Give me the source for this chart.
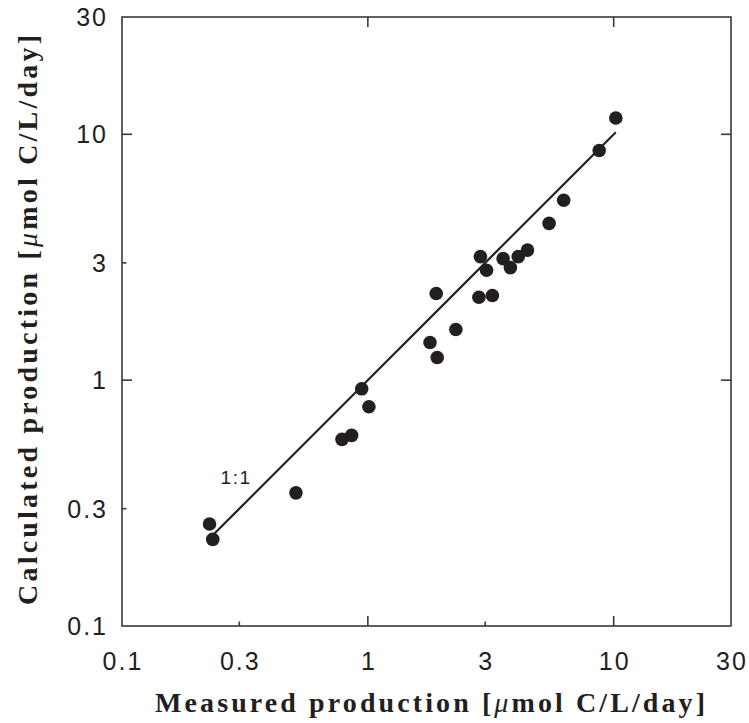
<!DOCTYPE html>
<html lang="en">
  <head>
    <meta charset="UTF-8" />
    <title>Measured vs calculated production</title>
    <style>
      body {
        margin: 0;
        background: #fff;
      }
      svg {
        display: block;
      }
      .tick-label {
        font-family: "Liberation Sans", Arial, sans-serif;
        font-size: 25px;
        letter-spacing: 2px;
        fill: #231f20;
      }
      .axis-title {
        font-family: "Liberation Serif", "Times New Roman", serif;
        font-weight: bold;
        font-size: 28px;
        fill: #231f20;
      }
    </style>
  </head>
  <body>
    <div id="chart"></div>

    <script src="https://d3js.org/d3.v7.min.js"></script>
    <script>
      // measured (x) and calculated (y) production, umol C/L/day
      const measured = [
        0.227, 0.234, 0.51, 0.785, 0.859, 0.944, 1.01, 1.79, 1.915, 1.897,
        2.28, 2.83, 2.87, 3.04, 3.21, 3.55, 3.8, 4.09, 4.46, 5.46, 6.26, 8.73,
        10.2,
      ];
      const calculated = [
        0.26, 0.225, 0.348, 0.574, 0.596, 0.922, 0.779, 1.423, 1.237, 2.25,
        1.607, 2.175, 3.18, 2.8, 2.21, 3.12, 2.87, 3.18, 3.38, 4.34, 5.39,
        8.59, 11.65,
      ];
      const oneToOne = [0.235, 10.2];
      const tickValues = [0.1, 0.3, 1, 3, 10, 30];
      const majorTicks = [1, 10];
      const minorTicks = [0.3, 3];

      const width = 749,
        height = 723;
      const plot = { left: 122, right: 731, top: 17, bottom: 626 };

      const svg = d3
        .select("#chart")
        .append("svg")
        .attr("width", width)
        .attr("height", height);

      const x = d3
        .scaleLog()
        .domain([0.1, 30])
        .range([plot.left, plot.right]);
      const y = d3
        .scaleLog()
        .domain([0.1, 30])
        .range([plot.bottom, plot.top]);

      const ink = "#231f20";
      const frame = "#3b3839";

      // frame
      svg
        .append("rect")
        .attr("x", plot.left)
        .attr("y", plot.top)
        .attr("width", plot.right - plot.left)
        .attr("height", plot.bottom - plot.top)
        .attr("fill", "none")
        .attr("stroke", frame)
        .attr("stroke-width", 1.6);

      // inward ticks: long at decades, short at 0.3 / 3 (left + bottom only)
      const ticks = svg.append("g").attr("stroke", frame).attr("stroke-width", 1.6);
      const tickLen = (v) => (majorTicks.includes(v) ? 10 : 4.5);

      [...majorTicks, ...minorTicks].forEach((v) => {
        ticks
          .append("line")
          .attr("x1", x(v))
          .attr("x2", x(v))
          .attr("y1", plot.bottom)
          .attr("y2", plot.bottom - tickLen(v));
        ticks
          .append("line")
          .attr("y1", y(v))
          .attr("y2", y(v))
          .attr("x1", plot.left)
          .attr("x2", plot.left + tickLen(v));
      });
      majorTicks.forEach((v) => {
        ticks
          .append("line")
          .attr("x1", x(v))
          .attr("x2", x(v))
          .attr("y1", plot.top)
          .attr("y2", plot.top + 10);
        ticks
          .append("line")
          .attr("y1", y(v))
          .attr("y2", y(v))
          .attr("x1", plot.right)
          .attr("x2", plot.right - 10);
      });

      // tick labels
      svg
        .append("g")
        .selectAll("text")
        .data(tickValues)
        .join("text")
        .attr("class", "tick-label")
        .attr("x", (d) => x(d) + 1)
        .attr("y", plot.bottom + 44)
        .attr("text-anchor", "middle")
        .text((d) => d);

      svg
        .append("g")
        .selectAll("text")
        .data(tickValues)
        .join("text")
        .attr("class", "tick-label")
        .attr("x", plot.left - 14)
        .attr("y", (d) => y(d))
        .attr("dy", "0.36em")
        .attr("text-anchor", "end")
        .text((d) => d);

      // 1:1 line
      svg
        .append("line")
        .attr("x1", x(oneToOne[0]))
        .attr("y1", y(oneToOne[0]))
        .attr("x2", x(oneToOne[1]))
        .attr("y2", y(oneToOne[1]))
        .attr("stroke", ink)
        .attr("stroke-width", 2.2);

      svg
        .append("text")
        .attr("class", "tick-label")
        .attr("x", x(0.291))
        .attr("y", y(0.4045))
        .attr("dy", "0.36em")
        .attr("text-anchor", "middle")
        .style("font-size", "19px")
        .style("letter-spacing", "1.5px")
        .text("1:1");

      // points
      const points = measured.map((m, i) => ({ m, c: calculated[i] }));
      svg
        .append("g")
        .selectAll("circle")
        .data(points)
        .join("circle")
        .attr("cx", (d) => x(d.m))
        .attr("cy", (d) => y(d.c))
        .attr("r", 6.8)
        .attr("fill", ink);

      // axis titles
      const xt = svg
        .append("text")
        .attr("class", "axis-title")
        .attr("x", 430)
        .attr("y", 712)
        .attr("text-anchor", "middle")
        .attr("textLength", 550)
        .attr("lengthAdjust", "spacing");
      xt.append("tspan").text("Measured production [");
      xt.append("tspan").attr("font-style", "italic").attr("font-weight", "normal").text("\u03bc");
      xt.append("tspan").text("mol C/L/day]");

      const yt = svg
        .append("text")
        .attr("class", "axis-title")
        .attr("transform", "translate(37,320) rotate(-90)")
        .attr("text-anchor", "middle")
        .attr("textLength", 570)
        .attr("lengthAdjust", "spacing");
      yt.append("tspan").text("Calculated production [");
      yt.append("tspan").attr("font-style", "italic").attr("font-weight", "normal").text("\u03bc");
      yt.append("tspan").text("mol C/L/day]");
    </script>
  </body>
</html>
